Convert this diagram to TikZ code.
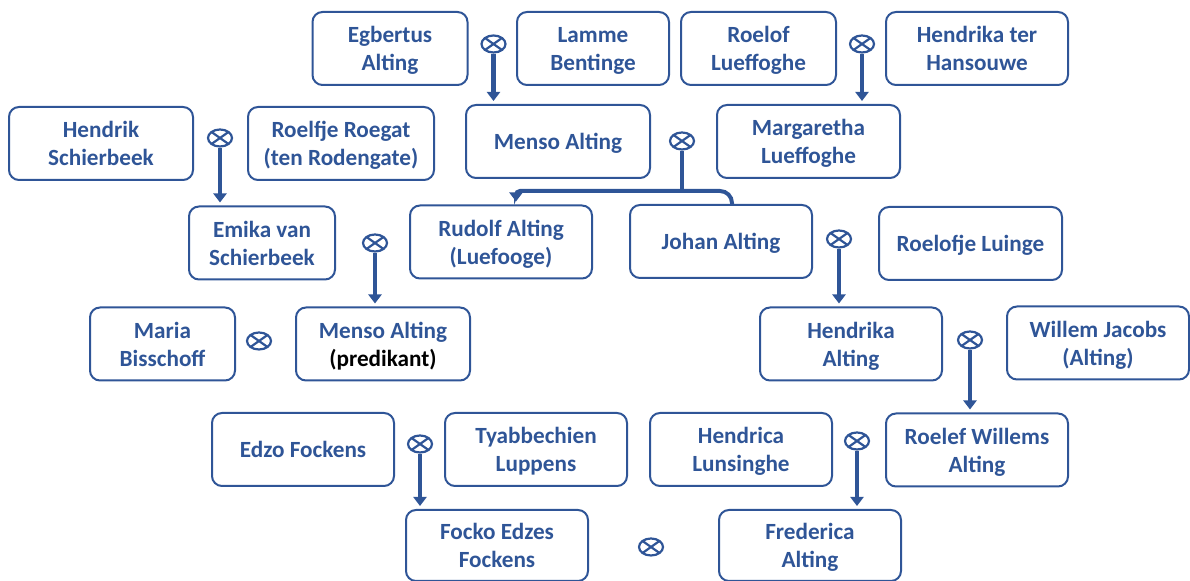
\documentclass[tikz,border=0pt]{standalone}
\usepackage{fontspec}
\setmainfont{Carlito}
\usepackage{tikz}
\usetikzlibrary{shapes.geometric,arrows.meta,calc}
\definecolor{altblue}{RGB}{47,85,151}
\tikzset{
  pbox/.style={draw=altblue, line width=1pt, rounded corners=5pt, align=center,
    inner sep=2pt, minimum width=#1, minimum height=36.5pt, text=altblue,
    text depth=0pt, font=\bfseries\fontsize{11.6}{14}\selectfont},
  pbox/.default=91pt,
  wed/.style={draw=altblue, ellipse, line width=1.1pt, inner sep=0pt,
    minimum width=12pt, minimum height=8.5pt,
    path picture={\draw[altblue, line width=1.1pt]
      (path picture bounding box.north west) -- (path picture bounding box.south east)
      (path picture bounding box.south west) -- (path picture bounding box.north east);}},
  kid/.style={draw=altblue, line width=2.4pt, -{Triangle[width=6.5pt,length=4.5pt]}, shorten >=1.5pt},
  tie/.style={draw=altblue, line width=2pt}
}
\begin{document}
\begin{tikzpicture}[x=0.5pt,y=-0.5pt]
\useasboundingbox (0,0) rectangle (1190,581);
\node [pbox=77.5pt] (egbertus) at (390,48.5) {Egbertus\\Alting};
\node [pbox=76pt] (lamme) at (593,48.5) {Lamme\\Bentinge};
\node [pbox=77.5pt] (roelof) at (758.5,48.5) {Roelof\\Lueffoghe};
\node [pbox] (hansouwe) at (977,48.5) {Hendrika ter\\Hansouwe};
\node [pbox=92pt] (hendrik) at (101,143.5) {Hendrik\\Schierbeek};
\node [pbox=93pt] (roelfje) at (341,143.5) {Roelf{}je Roegat\\(ten Rodengate)};
\node [pbox=92pt] (menso) at (558,141.5) {Menso Alting};
\node [pbox=91.5pt] (margaretha) at (808.5,141.5) {Margaretha\\Lueffoghe};
\node [pbox=73pt] (emika) at (262,243) {Emika van\\Schierbeek};
\node [pbox] (rudolf) at (501,242) {Rudolf Alting\\(Luefooge)};
\node [pbox] (johan) at (721,241.5) {Johan Alting};
\node [pbox=91.5pt] (roelofje) at (970.5,243.5) {Roelof{}je Luinge};
\node [pbox=72.5pt] (maria) at (162.5,344) {Maria\\Bisschoff};
\node [pbox=87pt] (predikant) at (383,344) {Menso Alting\\\textcolor{black}{(predikant)}};
\node [pbox] (hendrika) at (851,344) {Hendrika\\Alting};
\node [pbox] (willem) at (1098,343) {Willem Jacobs\\(Alting)};
\node [pbox] (edzo) at (303,449.5) {Edzo Fockens};
\node [pbox] (tyabbechien) at (536,449.5) {Tyabbechien\\Luppens};
\node [pbox] (hendrica) at (741,449.5) {Hendrica\\Lunsinghe};
\node [pbox] (roelef) at (977,450) {Roelef Willems\\Alting};
\node [pbox, minimum height=35.5pt] (focko) at (497,545.5) {Focko Edzes\\Fockens};
\node [pbox, minimum height=35.5pt] (frederica) at (810,545.5) {Frederica\\Alting};
\node [wed] (m1) at (493.5,44) {};
\node [wed] (m2) at (862,44) {};
\node [wed] (m3) at (220,138) {};
\node [wed] (m4) at (682,141) {};
\node [wed] (m5) at (375,243) {};
\node [wed] (m6) at (839,239) {};
\node [wed] (m7) at (259,341) {};
\node [wed] (m8) at (970,340) {};
\node [wed] (m9) at (420,444) {};
\node [wed] (m10) at (857,441) {};
\node [wed] (m11) at (651,547) {};
\coordinate (split) at (682,191);
\draw [kid] (m1) -- (m1 |- menso.north);
\draw [kid] (m2) -- (m2 |- margaretha.north);
\draw [kid] (m3) -- (m3 |- emika.north);
\draw [tie] (m4) -- (split);
\draw [tie,rounded corners=6pt] (split) -| ([xshift=5.5pt]johan.north);
\draw [kid,line width=2pt,rounded corners=2pt] (split) -| ([xshift=7.5pt]rudolf.north);
\draw [kid] (m5) -- (m5 |- predikant.north);
\draw [kid] (m6) -- (m6 |- hendrika.north);
\draw [kid] (m8) -- (m8 |- roelef.north);
\draw [kid] (m9) -- (m9 |- focko.north);
\draw [kid] (m10) -- (m10 |- frederica.north);
\end{tikzpicture}
\end{document}
